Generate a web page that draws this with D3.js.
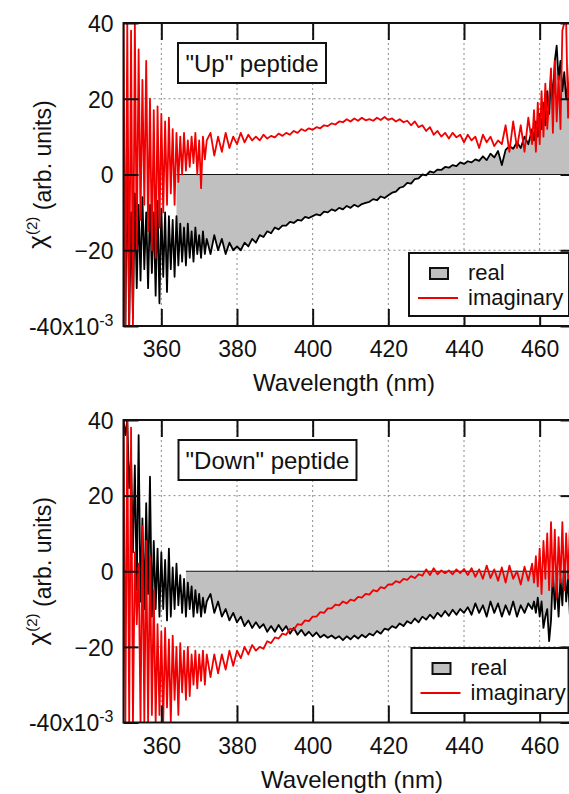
<!DOCTYPE html>
<html>
<head>
<meta charset="utf-8">
<script src="https://cdn.jsdelivr.net/npm/d3@7"></script>
<style>
  body { margin: 0; background: #fff; }
  svg text { font-family: "Liberation Sans", Arial, sans-serif; fill: #111; }
</style>
</head>
<body>
<div id="chart"></div>
<script>
// wavelength grid (nm), shared by all four traces
var wavelength = [
  350, 350.5, 351, 351.5, 352, 352.5, 353, 353.5, 354, 354.5,
  355, 355.5, 356, 356.5, 357, 357.5, 358, 358.5, 359, 359.5,
  360, 360.5, 361, 361.5, 362, 362.5, 363, 363.5, 364, 364.5,
  365, 365.5, 366, 366.5, 367, 367.5, 368, 368.5, 369, 369.5,
  370, 370.5, 371, 371.5, 372,
  373, 374, 375, 376, 377, 378, 379, 380, 381, 382,
  383, 384, 385, 386, 387, 388, 389, 390, 391, 392,
  393, 394, 395, 396, 397, 398, 399, 400, 401, 402,
  403, 404, 405, 406, 407, 408, 409, 410, 411, 412,
  413, 414, 415, 416, 417, 418, 419, 420, 421, 422,
  423, 424, 425, 426, 427, 428, 429, 430, 431, 432,
  433, 434, 435, 436, 437, 438, 439, 440, 441, 442,
  443, 444, 445, 446, 447, 448, 449, 450, 451, 452,
  453, 454, 455, 456, 457, 458,
  458.5, 459, 459.5, 460, 460.5, 461, 461.5, 462, 462.5, 463,
  463.5, 464, 464.5, 465, 465.5, 466, 466.5, 467, 467.5, 468,
  468.5, 469, 469.5, 470
];

// "Up" peptide, chi(2) x 1e3
var upReal = [
  10, -40, 5, -40, -10, -38, -5, -30, -8, -28,
  -6, -25, -10, -30, -8, -26, -10, -32, -7, -34,
  -9, -27, -10, -31, -11, -25, -12, -27, -11, -24,
  -13, -23, -14, -24, -13, -22, -15, -23, -14, -21,
  -16, -22, -15, -21, -17,
  -21, -16, -20, -17, -21, -18, -20, -19, -20, -18,
  -19, -17, -18, -16, -16.5, -15, -15.5, -14, -14.5, -13.5,
  -13.5, -12.5, -12.8, -12, -12.2, -11.2, -11.5, -11, -10.5, -10.8,
  -9.8, -10, -9.2, -9.6, -8.8, -9.2, -8.3, -8.8, -8, -8.5,
  -7.8, -7.5, -7.2, -6.5, -6.8, -5.8, -6.2, -5.5, -4.8, -4.5,
  -3.5, -3.2, -2.2, -2.4, -1.2, -1, 0, -0.2, 0.8, 0.5,
  1.3, 1.2, 2, 1.8, 2.5, 2.2, 3.2, 2.8, 3.5, 3.2,
  4, 3.6, 4.8, 3.8, 5.5, 4.5, 6.2, 2.5, 6.5, 7.5,
  6.8, 8.5, 7, 10, 8, 12,
  9, 14, 10, 16, 12, 19, 13, 22, 16, 26,
  20, 30, 34, 25, 30, 22, 27, 20, 24, 18,
  22, 17, 20, 18
];
var upImag = [
  40, -40, 40, -40, 38, -40, 40, -20, 33, -12,
  25, -8, 30, -15, 20, -20, 17, -22, 18, -14,
  16, -10, 14, -8, 15, -5, 12, -8, 11, -2,
  10, 0, 11, 1, 9, 2, 10, 3, 11, 0,
  9, -3.6, 10, 4, 9,
  11, 5, 10, 6, 11, 7, 10, 8, 11, 8.5,
  10.5, 9, 10, 9, 10.5, 9.5, 10.2, 9.8, 10.8, 10.2,
  11, 10.5, 11.5, 11, 12, 11.5, 12.2, 11.8, 12.5, 12.2,
  13, 12.8, 13.5, 13.2, 14, 13.8, 14.6, 14, 14.8, 14.2,
  15, 14.3, 14.6, 14.2, 15, 14.4, 15.2, 14.4, 14.8, 14,
  14.6, 13.8, 14.2, 13, 14, 12.5, 13, 11.5, 12.5, 10.5,
  11.5, 10, 11, 9.5, 11, 9.8, 10.5, 8.5, 10.5, 9,
  10, 7, 10.5, 8.5, 10, 7.5, 9, 8, 13, 6,
  14, 7, 13, 6, 15, 8,
  17, 6, 19, 8, 22, 10, 24, 12, 20, 28,
  11, 30, 14, 26, 12, 38, 40, 40, 15, 30,
  9, 25, 10, 20
];

// "Down" peptide, chi(2) x 1e3
var downReal = [
  40, 36, 40, 22, 30, 5, 28, -5, 36, -8,
  14, -10, 18, -6, 25, -12, 8, -10, 6, -12,
  5, -10, 3, -13, 6, -12, 1, -10, 2, -9,
  -1, -11, -2, -12, -3, -10, -4, -12, -5, -11,
  -6, -12, -7, -11, -8,
  -6, -11, -8, -12, -10, -13, -11, -13.5, -12, -14.5,
  -13, -15, -13.5, -15, -14, -16, -14.5, -16, -14.2, -15.8,
  -14.5, -16.5, -15, -16.8, -15.5, -17, -16, -17.2, -16.2, -17.5,
  -16.8, -17.6, -17, -17.8, -17.2, -18.2, -17.2, -18, -17, -17.8,
  -16.8, -17.5, -16.5, -17, -15.8, -16.5, -15.2, -15.5, -14.5, -15,
  -13.8, -14.5, -13.2, -13.8, -12.5, -13.5, -12, -12.8, -11.5, -12.5,
  -11, -12, -10.5, -11.8, -10.2, -11.5, -10, -11, -9.5, -11.5,
  -8.5, -11, -9, -12, -8, -11, -8.5, -12, -9, -11.5,
  -8, -12, -9, -11, -8.5, -10,
  -8, -11, -7, -12, -8, -15, -12, -10, -18.5, -13,
  0, -10, -3, -12, -2, -9, 3, -8, -2, -12,
  0, -9, -3, -8
];
var downImag = [
  40, -40, 40, -40, 38, -40, 5, -14, 2, -40,
  12, -40, 8, -40, 4, -38, -5, -40, -14, -38,
  -16, -40, -15, -36, -18, -40, -17, -34, -20, -38,
  -19, -32, -21, -34, -20, -33, -22, -30, -21, -31,
  -22, -29, -21, -30, -22,
  -28, -22, -27, -22, -26, -21, -25, -21, -23, -20,
  -22, -19.5, -21, -20, -20.5, -18.5, -19, -17.5, -17.8, -16.5,
  -16.8, -15.2, -15.5, -14, -14.2, -13, -13.2, -12, -12, -10.8,
  -11, -9.8, -9.8, -8.8, -9, -8, -8.5, -7.5, -7.8, -6.8,
  -7, -6, -6.2, -5, -5.3, -4.2, -4.5, -3.5, -3.5, -2.6,
  -3, -2, -2.3, -1.3, -1.8, -0.8, -1.2, 0.5, -1, 0.8,
  -0.8, 0.2, -0.5, 0.2, -0.8, 0.5, -0.5, 0.6, -1, 0.8,
  -1.5, 0.5, -2, 1.5, -1.8, 0.5, -2.5, 1, -3, 1.5,
  -2, 0, -3.5, 1.2, -2.5, 2,
  -3, 4, -4, 6, -6, 8, -2, 10, -5, 13,
  -4, 11, -7, 9, -3, 13, -5, 10, -2, 12,
  -4, 8, -2, 6
];

var xTicks = [360, 380, 400, 420, 440, 460];
var yTicks = [40, 20, 0, -20, -40];
var yGrid = [20, -20];
var legendLabels = ["real", "imaginary"];

var W = 569, H = 794;
var svg = d3.select("#chart").append("svg")
    .attr("width", W)
    .attr("height", H);

// x scale is shared; the right end of the plot runs past the picture edge
var x = d3.scaleLinear().domain([350, 470]).range([123.5, 577.5]);

function drawPanel(cfg) {
  var y = d3.scaleLinear().domain([-40, 40]).range([cfg.bottom, cfg.top]);
  var g = svg.append("g");

  g.append("clipPath").attr("id", cfg.id + "-clip")
    .append("rect")
      .attr("x", x(350))
      .attr("y", cfg.top)
      .attr("width", x(470) - x(350))
      .attr("height", cfg.bottom - cfg.top);

  var realPts = wavelength.map(function(w, i) { return {x: w, y: cfg.real[i]}; });
  var imagPts = wavelength.map(function(w, i) { return {x: w, y: cfg.imag[i]}; });

  // dotted grid
  var grid = g.append("g")
      .attr("stroke", "#8a8a8a")
      .attr("stroke-width", 1)
      .attr("stroke-dasharray", "2,3");
  grid.selectAll(".gx").data(xTicks).enter().append("line")
      .attr("x1", function(d) { return x(d); })
      .attr("x2", function(d) { return x(d); })
      .attr("y1", cfg.top)
      .attr("y2", cfg.bottom);
  grid.selectAll(".gy").data(yGrid).enter().append("line")
      .attr("x1", x(350))
      .attr("x2", x(470))
      .attr("y1", function(d) { return y(d); })
      .attr("y2", function(d) { return y(d); });

  var plot = g.append("g").attr("clip-path", "url(#" + cfg.id + "-clip)");

  // gray fill between the real part and zero
  var area = d3.area()
      .x(function(d) { return x(d.x); })
      .y0(y(0))
      .y1(function(d) { return y(d.y); });
  var fillPts = realPts.filter(function(d) { return d.x >= cfg.fillFrom; });
  plot.append("path")
      .datum(fillPts)
      .attr("d", area)
      .attr("fill", "#c0c0c0");
  plot.append("line")
      .attr("x1", x(cfg.fillFrom))
      .attr("x2", x(470))
      .attr("y1", y(0))
      .attr("y2", y(0))
      .attr("stroke", "#111")
      .attr("stroke-width", 1.2);

  var line = d3.line()
      .x(function(d) { return x(d.x); })
      .y(function(d) { return y(d.y); });
  plot.append("path")
      .datum(realPts)
      .attr("d", line)
      .attr("fill", "none")
      .attr("stroke", "#000")
      .attr("stroke-width", 1.8)
      .attr("stroke-linejoin", "round");
  plot.append("path")
      .datum(imagPts)
      .attr("d", line)
      .attr("fill", "none")
      .attr("stroke", "#f00000")
      .attr("stroke-width", 1.8)
      .attr("stroke-linejoin", "round");

  // axes, ticks pointing inward
  var bottomAxis = g.append("g")
      .attr("transform", "translate(0," + cfg.bottom + ")")
      .call(d3.axisBottom(x).tickValues(xTicks).tickSizeInner(-17).tickSizeOuter(0).tickPadding(15));
  var topAxis = g.append("g")
      .attr("transform", "translate(0," + cfg.top + ")")
      .call(d3.axisTop(x).tickValues(xTicks).tickSizeInner(-17).tickSizeOuter(0).tickFormat(""));
  var leftAxis = g.append("g")
      .attr("transform", "translate(" + x(350) + ",0)")
      .call(d3.axisLeft(y).tickValues(yTicks).tickSizeInner(-15).tickSizeOuter(0).tickPadding(10));
  var rightAxis = g.append("g")
      .attr("transform", "translate(" + x(470) + ",0)")
      .call(d3.axisRight(y).tickValues(yTicks).tickSizeInner(-17).tickSizeOuter(0).tickFormat(""));

  [bottomAxis, topAxis, leftAxis, rightAxis].forEach(function(a) {
    a.select(".domain").remove();
    a.selectAll(".tick line").attr("stroke", "#111").attr("stroke-width", 2);
    a.selectAll("text")
      .attr("font-family", "Liberation Sans, Arial, sans-serif")
      .attr("font-size", "23px")
      .attr("fill", "#111");
  });
  leftAxis.selectAll("text").attr("dy", "0.36em");
  leftAxis.selectAll(".tick text")
    .filter(function(d) { return d === -40; })
    .text("-40x10")
    .append("tspan")
      .attr("dy", "-0.55em")
      .attr("font-size", "16px")
      .text("-3");

  // frame
  g.append("rect")
      .attr("x", x(350))
      .attr("y", cfg.top)
      .attr("width", x(470) - x(350))
      .attr("height", cfg.bottom - cfg.top)
      .attr("fill", "none")
      .attr("stroke", "#111")
      .attr("stroke-width", 2);

  // axis titles
  g.append("text")
      .attr("x", cfg.xTitleX)
      .attr("y", cfg.xTitleY)
      .attr("text-anchor", "middle")
      .attr("font-size", "24px")
      .text("Wavelength (nm)");
  var yt = g.append("text")
      .attr("transform", "translate(46," + y(0) + ") rotate(-90)")
      .attr("text-anchor", "middle")
      .attr("font-size", "23px");
  yt.append("tspan").attr("font-size", "26px").text("\u03c7");
  yt.append("tspan").attr("dy", "-0.6em").attr("font-size", "15px").text("(2)");
  yt.append("tspan").attr("dy", "0.6em").text(" (arb. units)");

  // sample label box
  g.append("rect")
      .attr("x", cfg.labelBox[0])
      .attr("y", cfg.labelBox[1])
      .attr("width", cfg.labelBox[2])
      .attr("height", cfg.labelBox[3])
      .attr("fill", "#fff")
      .attr("stroke", "#111")
      .attr("stroke-width", 2);
  g.append("text")
      .attr("x", cfg.labelBox[0] + cfg.labelBox[2] / 2)
      .attr("y", cfg.labelBox[1] + 29)
      .attr("text-anchor", "middle")
      .attr("font-size", "24px")
      .text(cfg.label);

  // legend
  var lb = cfg.legendBox;
  var leg = g.append("g");
  leg.append("rect")
      .attr("x", lb[0]).attr("y", lb[1])
      .attr("width", lb[2]).attr("height", lb[3])
      .attr("fill", "#fff")
      .attr("stroke", "#111")
      .attr("stroke-width", 2);
  leg.append("rect")
      .attr("x", lb[0] + 21).attr("y", lb[1] + 15)
      .attr("width", 18).attr("height", 11)
      .attr("fill", "#c0c0c0")
      .attr("stroke", "#111")
      .attr("stroke-width", 2);
  leg.append("line")
      .attr("x1", lb[0] + 9).attr("x2", lb[0] + 49)
      .attr("y1", lb[1] + 45).attr("y2", lb[1] + 45)
      .attr("stroke", "#f00000")
      .attr("stroke-width", 2);
  leg.selectAll(".lt").data(legendLabels).enter().append("text")
      .attr("x", lb[0] + 59)
      .attr("y", function(d, i) { return lb[1] + 27 + i * 25; })
      .attr("font-size", "22px")
      .text(function(d) { return d; });
}

drawPanel({
  id: "up", top: 23, bottom: 326,
  real: upReal, imag: upImag, fillFrom: 364,
  label: "\"Up\" peptide", labelBox: [178, 43, 148, 40],
  legendBox: [409, 253, 160, 63],
  xTitleX: 344, xTitleY: 391
});
drawPanel({
  id: "down", top: 420, bottom: 722.5,
  real: downReal, imag: downImag, fillFrom: 366.5,
  label: "\"Down\" peptide", labelBox: [178.5, 440, 178, 40],
  legendBox: [411.5, 648, 157, 65],
  xTitleX: 352, xTitleY: 788
});
</script>
</body>
</html>
